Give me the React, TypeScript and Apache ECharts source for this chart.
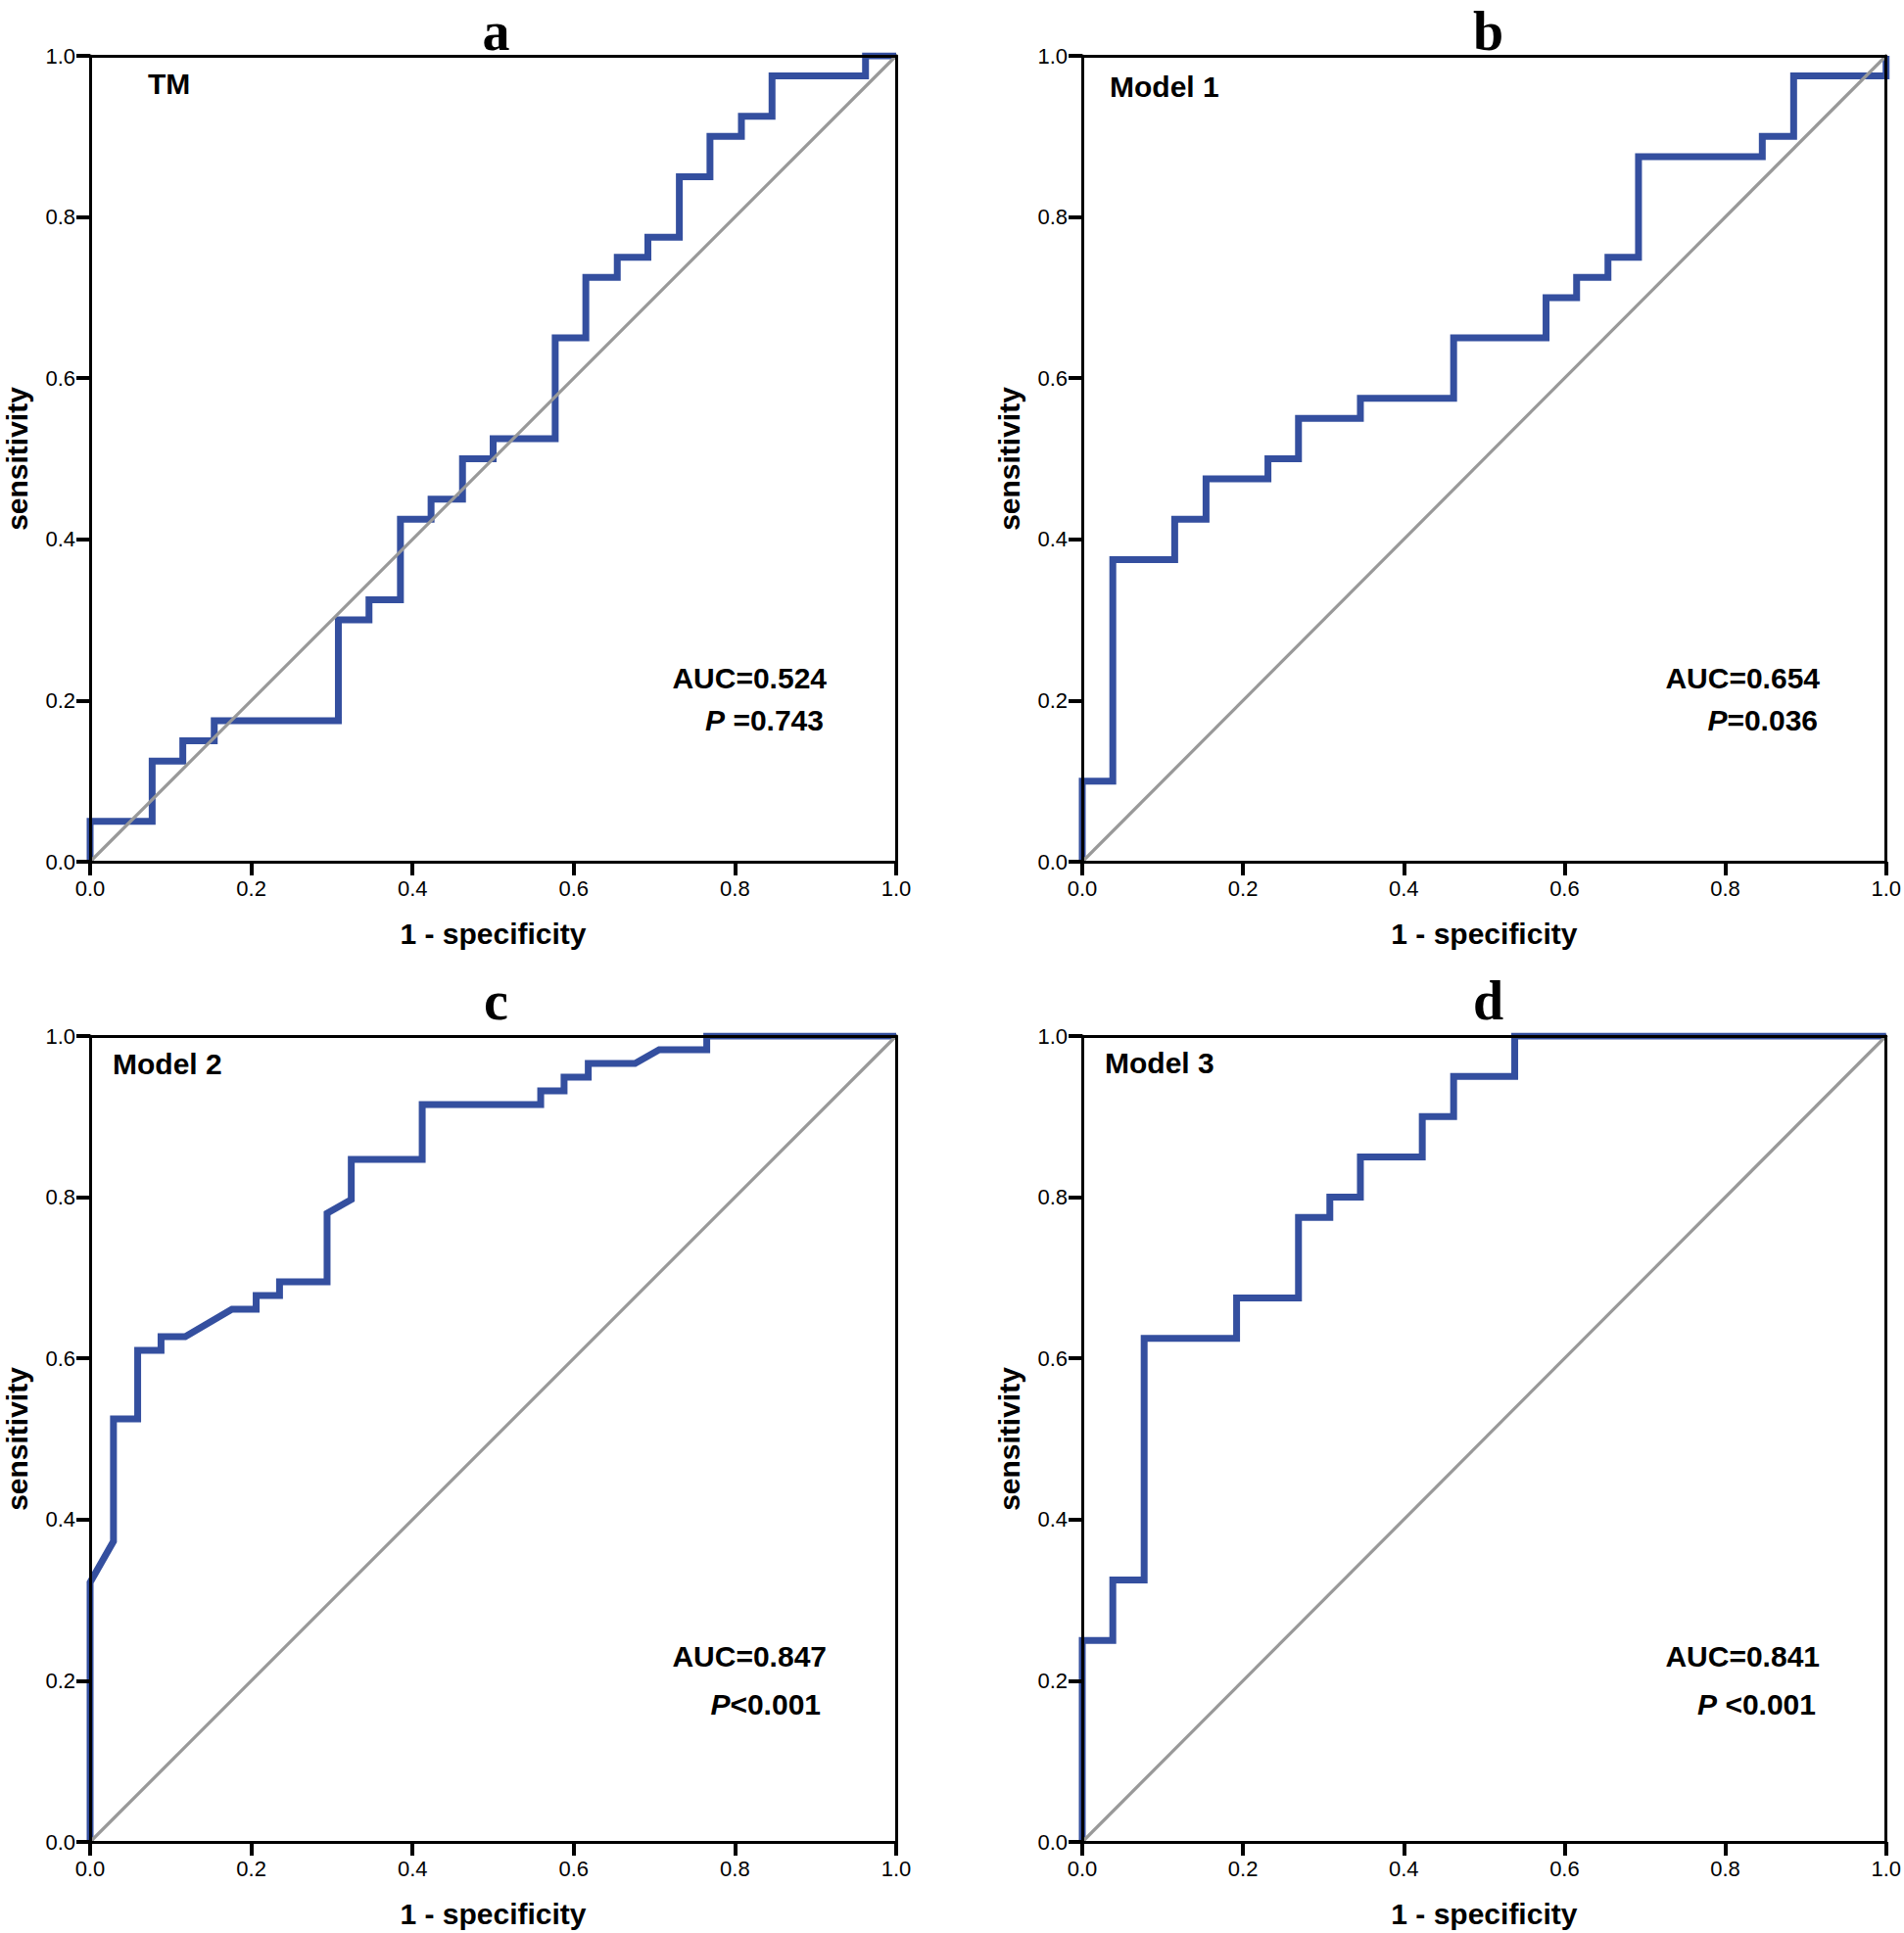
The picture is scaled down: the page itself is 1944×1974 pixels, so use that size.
import React, { useEffect, useRef } from 'react';
import * as echarts from 'echarts';

const W = 1944;
const H = 1974;
const FONT = '"Liberation Sans", Arial, Helvetica, sans-serif';
const SERIF = '"Liberation Serif", "Times New Roman", serif';

// ---- data ----
const panelLetters = ['a', 'b', 'c', 'd'];
const modelNames = ['TM', 'Model 1', 'Model 2', 'Model 3'];
const aucLabels = ['AUC=0.524', 'AUC=0.654', 'AUC=0.847', 'AUC=0.841'];
const pLabels = [' =0.743', '=0.036', '<0.001', ' <0.001'];
const tickLabels = ['0.0', '0.2', '0.4', '0.6', '0.8', '1.0'];
const xAxisName = '1 - specificity';
const yAxisName = 'sensitivity';

const tmFpr = [0, 0, 0.077, 0.077, 0.115, 0.115, 0.154, 0.154, 0.308, 0.308, 0.346, 0.346, 0.385, 0.385, 0.423, 0.423, 0.462, 0.462, 0.5, 0.5, 0.577, 0.577, 0.615, 0.615, 0.654, 0.654, 0.692, 0.692, 0.731, 0.731, 0.769, 0.769, 0.808, 0.808, 0.846, 0.846, 0.962, 0.962, 1];
const tmTpr = [0, 0.05, 0.05, 0.125, 0.125, 0.15, 0.15, 0.175, 0.175, 0.3, 0.3, 0.325, 0.325, 0.425, 0.425, 0.45, 0.45, 0.5, 0.5, 0.525, 0.525, 0.65, 0.65, 0.725, 0.725, 0.75, 0.75, 0.775, 0.775, 0.85, 0.85, 0.9, 0.9, 0.925, 0.925, 0.975, 0.975, 1, 1];

const m1Fpr = [0, 0, 0.038, 0.038, 0.115, 0.115, 0.154, 0.154, 0.231, 0.231, 0.269, 0.269, 0.346, 0.346, 0.462, 0.462, 0.577, 0.577, 0.615, 0.615, 0.654, 0.654, 0.692, 0.692, 0.846, 0.846, 0.885, 0.885, 1, 1];
const m1Tpr = [0, 0.1, 0.1, 0.375, 0.375, 0.425, 0.425, 0.475, 0.475, 0.5, 0.5, 0.55, 0.55, 0.575, 0.575, 0.65, 0.65, 0.7, 0.7, 0.725, 0.725, 0.75, 0.75, 0.875, 0.875, 0.9, 0.9, 0.975, 0.975, 1];

const m2Fpr = [0, 0, 0.029, 0.029, 0.059, 0.059, 0.088, 0.088, 0.118, 0.176, 0.206, 0.206, 0.235, 0.235, 0.294, 0.294, 0.324, 0.324, 0.412, 0.412, 0.559, 0.559, 0.588, 0.588, 0.618, 0.618, 0.676, 0.706, 0.765, 0.765, 1];
const m2Tpr = [0, 0.322, 0.373, 0.525, 0.525, 0.61, 0.61, 0.627, 0.627, 0.661, 0.661, 0.678, 0.678, 0.695, 0.695, 0.78, 0.797, 0.847, 0.847, 0.915, 0.915, 0.932, 0.932, 0.949, 0.949, 0.966, 0.966, 0.983, 0.983, 1, 1];

const m3Fpr = [0, 0, 0.038, 0.038, 0.077, 0.077, 0.192, 0.192, 0.269, 0.269, 0.308, 0.308, 0.346, 0.346, 0.423, 0.423, 0.462, 0.462, 0.538, 0.538, 1];
const m3Tpr = [0, 0.25, 0.25, 0.325, 0.325, 0.625, 0.625, 0.675, 0.675, 0.775, 0.775, 0.8, 0.8, 0.85, 0.85, 0.9, 0.9, 0.95, 0.95, 1, 1];

const refFpr = [0, 1];
const refTpr = [0, 1];

const curves = [
  [tmFpr, tmTpr],
  [m1Fpr, m1Tpr],
  [m2Fpr, m2Tpr],
  [m3Fpr, m3Tpr],
];

// ---- layout ----
const PW = 823;
const PH = 823;
const grids = [
  { left: 92, top: 57 },
  { left: 1105, top: 57 },
  { left: 92, top: 1058 },
  { left: 1105, top: 1058 },
];
const letterY = [32, 32, 1022, 1022];
const modelPos = [
  { dx: 59, dy: 28 },
  { dx: 28, dy: 31 },
  { dx: 23, dy: 28 },
  { dx: 23, dy: 27 },
];
const aucPos = [
  { dx: 752, dy: 635, pdx: 749, pdy: 678 },
  { dx: 753, dy: 635, pdx: 751, pdy: 678 },
  { dx: 752, dy: 633, pdx: 746, pdy: 682 },
  { dx: 753, dy: 633, pdx: 749, pdy: 682 },
];

const zip = (xs: number[], ys: number[]) => xs.map((x, i) => [x, ys[i]]);

function buildOption() {
  const xAxis: any[] = [];
  const yAxis: any[] = [];
  const series: any[] = [];
  const graphic: any[] = [];
  const boldText = { fontFamily: FONT, fontWeight: 'bold', fontSize: 30, color: '#000' };

  grids.forEach((g, i) => {
    xAxis.push({
      type: 'value', gridIndex: i, min: 0, max: 1, interval: 0.2, position: 'bottom', z: 5,
      name: xAxisName, nameLocation: 'middle', nameGap: 58, nameTextStyle: boldText,
      axisLine: { show: true, onZero: false, lineStyle: { color: '#000', width: 3 } },
      axisTick: { show: true, length: 14, lineStyle: { color: '#000', width: 4 } },
      axisLabel: {
        show: true, margin: 16, fontSize: 22, color: '#000', fontFamily: FONT,
        showMinLabel: true, showMaxLabel: true,
        formatter: (v: number) => tickLabels[Math.round(v * 5)],
      },
      splitLine: { show: false },
    });
    xAxis.push({
      type: 'value', gridIndex: i, min: 0, max: 1, position: 'top', z: 5,
      axisLine: { show: true, onZero: false, lineStyle: { color: '#000', width: 3 } },
      axisTick: { show: false }, axisLabel: { show: false }, splitLine: { show: false },
    });
    yAxis.push({
      type: 'value', gridIndex: i, min: 0, max: 1, interval: 0.2, position: 'left', z: 5,
      name: yAxisName, nameLocation: 'middle', nameGap: 60, nameTextStyle: boldText,
      axisLine: { show: true, onZero: false, lineStyle: { color: '#000', width: 3 } },
      axisTick: { show: true, length: 14, lineStyle: { color: '#000', width: 4 } },
      axisLabel: {
        show: true, margin: 15, fontSize: 22, color: '#000', fontFamily: FONT,
        showMinLabel: true, showMaxLabel: true,
        formatter: (v: number) => tickLabels[Math.round(v * 5)],
      },
      splitLine: { show: false },
    });
    yAxis.push({
      type: 'value', gridIndex: i, min: 0, max: 1, position: 'right', z: 5,
      axisLine: { show: true, onZero: false, lineStyle: { color: '#000', width: 3 } },
      axisTick: { show: false }, axisLabel: { show: false }, splitLine: { show: false },
    });

    series.push({
      type: 'line', xAxisIndex: i * 2, yAxisIndex: i * 2,
      data: zip(curves[i][0], curves[i][1]),
      symbol: 'none', showSymbol: false, clip: true, z: 2,
      lineStyle: { color: '#344f9f', width: 7, join: 'miter', cap: 'butt' },
    });
    series.push({
      type: 'line', xAxisIndex: i * 2, yAxisIndex: i * 2,
      data: zip(refFpr, refTpr),
      symbol: 'none', showSymbol: false, clip: true, z: 3,
      lineStyle: { color: '#999999', width: 3.2 },
    });

    graphic.push({
      type: 'text', x: g.left + PW / 2 + 3, y: letterY[i], z: 10,
      style: { text: panelLetters[i], fontFamily: SERIF, fontWeight: 'bold', fontSize: 56, fill: '#000', align: 'center', verticalAlign: 'middle' },
    });
    graphic.push({
      type: 'text', x: g.left + modelPos[i].dx, y: g.top + modelPos[i].dy, z: 10,
      style: { text: modelNames[i], fontFamily: FONT, fontWeight: 'bold', fontSize: 30, fill: '#000', align: 'left', verticalAlign: 'middle' },
    });
    graphic.push({
      type: 'text', x: g.left + aucPos[i].dx, y: g.top + aucPos[i].dy, z: 10,
      style: { text: aucLabels[i], fontFamily: FONT, fontWeight: 'bold', fontSize: 30, fill: '#000', align: 'right', verticalAlign: 'middle' },
    });
    graphic.push({
      type: 'text', x: g.left + aucPos[i].pdx, y: g.top + aucPos[i].pdy, z: 10,
      style: {
        text: '{p|P}{n|' + pLabels[i] + '}',
        align: 'right', verticalAlign: 'middle',
        fontFamily: FONT, fontWeight: 'bold', fontSize: 30, fill: '#000',
        rich: {
          p: { fontFamily: FONT, fontWeight: 'bold', fontStyle: 'italic', fontSize: 30, fill: '#000' },
          n: { fontFamily: FONT, fontWeight: 'bold', fontSize: 30, fill: '#000' },
        },
      },
    });
  });

  return {
    animation: false,
    backgroundColor: '#fff',
    grid: grids.map((g) => ({ left: g.left, top: g.top, width: PW, height: PH, containLabel: false })),
    xAxis,
    yAxis,
    series,
    graphic,
  };
}

export default function App() {
  const ref = useRef<HTMLDivElement>(null);
  useEffect(() => {
    document.body.style.margin = '0';
    if (!ref.current) return;
    const chart = echarts.init(ref.current, null, { renderer: 'svg' });
    chart.setOption(buildOption() as any);
    return () => chart.dispose();
  }, []);
  return <div ref={ref} style={{ width: W, height: H }} />;
}
